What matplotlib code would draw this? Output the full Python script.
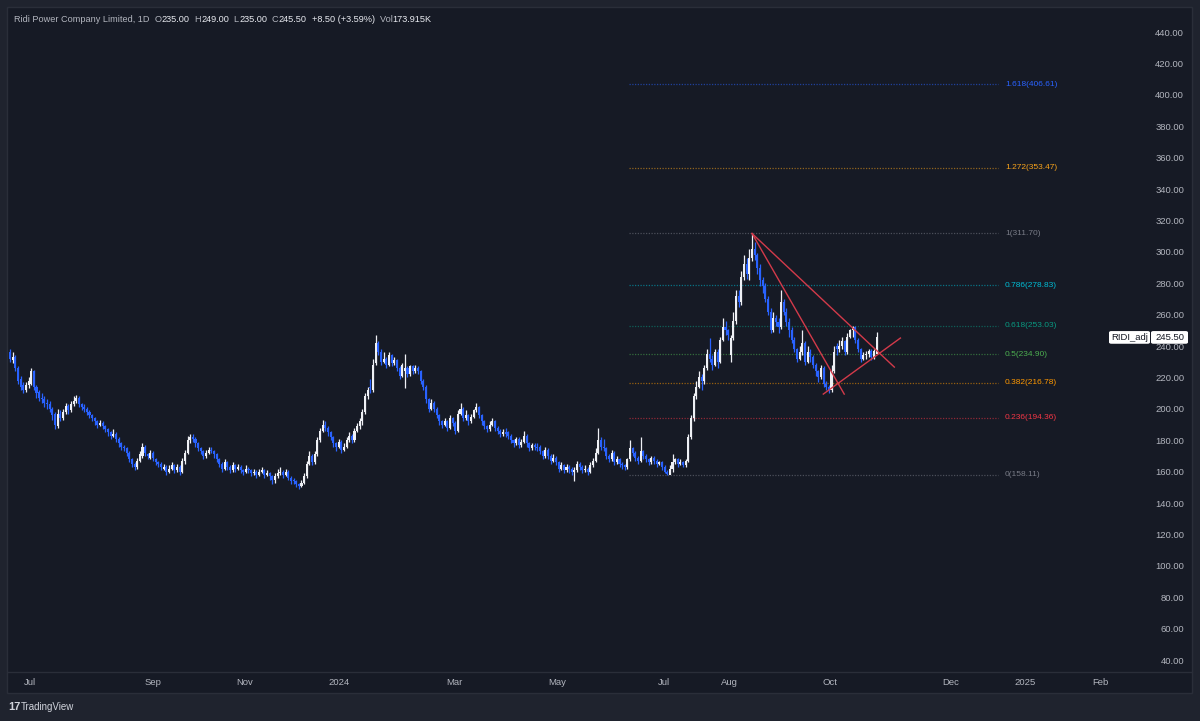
import matplotlib
matplotlib.use('Agg')
import matplotlib.pyplot as plt
from matplotlib.patches import Rectangle, FancyBboxPatch
from matplotlib.lines import Line2D
import numpy as np

plt.rcParams['font.family'] = ['Liberation Sans', 'DejaVu Sans']

# Daily candles, Ridi Power (RIDI), mid Jun 2023 -> 24 Oct 2024
opens = [
    236, 231, 233, 226, 219, 215, 212, 215, 216, 224,
    214, 211, 207, 206, 204, 203, 200, 197, 189, 197,
    194, 198, 202, 199, 203, 205, 207, 203, 201, 200,
    198, 196, 194, 192, 190, 191, 189, 187, 185, 183,
    184, 181, 178, 176, 175, 172, 168, 165, 163, 167,
    170, 176, 171, 169, 172, 168, 166, 165,
    162, 163, 160, 162, 164, 161, 163, 160, 167,
    172, 180, 182, 181, 178, 175, 173, 170, 172, 174,
    173, 171, 168, 165, 162, 166, 163, 161, 164, 162,
    163, 161, 160, 162, 161, 159, 160, 158, 160, 161,
    158, 159, 157, 155, 157, 159, 160, 158, 160, 156,
    155, 154, 152, 151, 153, 157, 165, 170, 166, 171,
    180, 186, 190, 188, 185, 182, 178, 176, 179, 174,
    176, 180, 183, 180, 186, 189, 192, 198, 208, 214,
    212, 229, 242, 236, 230, 232, 228, 234, 229, 231,
    226, 221, 224, 226, 222, 227, 224, 226, 224, 218,
    214, 206, 200, 204, 200, 196, 192, 190, 192, 188,
    194, 191, 186, 197, 200, 194, 196, 192, 195, 199,
    201, 196, 192, 189, 187, 190, 192, 188, 186, 184, 185,
    185, 183, 180, 178, 181, 177, 179, 183, 178, 175,
    177, 176, 176, 173, 170, 174, 170, 167, 169, 166, 162,
    164, 161, 163, 162, 160, 161, 165, 163, 161, 162,
    160, 164, 167, 172, 180, 176, 175, 170, 168, 172,
    166, 168, 165, 164, 163, 168, 175, 172, 169, 167,
    173, 170, 168, 166, 169, 167, 165, 166, 163, 160,
    158, 162, 166, 168, 165, 166, 164, 167, 182, 194,
    208, 214, 220, 218, 226, 235, 232, 228, 236, 230,
    244, 252, 250, 234, 245, 256, 272, 268, 284, 292,
    286, 296, 302, 298, 290, 282, 278, 270, 262, 250,
    258, 255, 252, 268, 262, 255, 250, 244, 238, 232,
    236, 242, 230, 236, 233, 228, 224, 220, 226, 216,
    214, 212, 224, 240, 238, 240, 243, 236, 246, 250,
    252, 244, 238, 232, 234, 235, 237, 233, 235,
]
highs = [
    238, 236, 234, 227, 221, 217, 217, 220, 226, 225,
    215, 212, 210, 208, 206, 205, 201, 198, 200, 199,
    200, 204, 203, 205, 208, 209, 208, 204, 203, 201,
    199, 197, 195, 193, 193, 192, 190, 188, 186, 187,
    185, 182, 179, 177, 176, 173, 169, 166, 169, 173,
    178, 177, 172, 174, 173, 169, 167, 166,
    165, 164, 164, 166, 165, 165, 164, 169, 174,
    183, 184, 184, 182, 179, 176, 174, 174, 176, 176,
    174, 172, 169, 166, 168, 167, 164, 166, 165, 165,
    164, 162, 164, 163, 162, 162, 161, 162, 163, 162,
    161, 160, 158, 159, 162, 163, 161, 162, 161, 157,
    156, 155, 153, 155, 159, 167, 173, 171, 173, 182,
    188, 193, 192, 189, 186, 183, 179, 181, 180, 178,
    182, 185, 184, 188, 191, 194, 200, 210, 214, 219,
    232, 247, 243, 238, 236, 233, 236, 235, 233, 232,
    227, 229, 235, 227, 228, 228, 228, 227, 225, 219,
    215, 207, 206, 205, 201, 197, 193, 194, 193, 196,
    195, 192, 199, 204, 201, 199, 197, 197, 200, 204,
    202, 197, 193, 190, 192, 194, 193, 189, 187, 187, 188,
    186, 184, 181, 182, 182, 181, 186, 184, 179, 178,
    178, 178, 177, 174, 176, 175, 171, 171, 170, 167, 166,
    165, 165, 164, 163, 163, 167, 166, 164, 164, 163,
    166, 169, 175, 188, 182, 181, 176, 171, 174, 173,
    170, 169, 166, 165, 169, 180, 176, 173, 170, 182,
    174, 171, 169, 170, 170, 168, 167, 167, 164, 161,
    164, 171, 169, 169, 168, 167, 168, 184, 196, 210,
    218, 224, 222, 228, 238, 245, 234, 238, 238, 246,
    258, 256, 251, 247, 262, 276, 276, 288, 298, 296,
    302, 311.7, 306, 299, 292, 284, 280, 272, 264, 262,
    260, 258, 276, 270, 264, 258, 252, 246, 239, 240,
    250, 243, 240, 238, 234, 229, 225, 228, 227, 218,
    215, 228, 240, 242, 244, 246, 244, 248, 251, 253,
    253, 245, 239, 236, 237, 238, 238, 238, 249,
]
lows = [
    230, 229, 224, 216, 212, 210, 211, 213, 215, 212,
    207, 205, 204, 201, 200, 198, 193, 187, 188, 192,
    193, 197, 197, 198, 202, 204, 201, 199, 198, 196,
    194, 192, 190, 188, 189, 187, 185, 183, 181, 182,
    179, 176, 174, 173, 170, 166, 163, 161, 162, 166,
    169, 170, 168, 168, 167, 164, 163, 161,
    161, 158, 159, 161, 159, 160, 158, 159, 165,
    171, 178, 179, 176, 173, 171, 168, 169, 171, 172,
    169, 166, 163, 160, 161, 161, 159, 160, 160, 161,
    159, 158, 159, 159, 157, 158, 156, 157, 159, 156,
    157, 155, 152, 153, 156, 158, 156, 157, 155, 152,
    152, 150, 149, 150, 152, 156, 164, 164, 165, 170,
    179, 185, 186, 183, 180, 176, 173, 175, 172, 173,
    175, 179, 178, 179, 185, 187, 190, 197, 206, 210,
    211, 228, 234, 228, 229, 226, 227, 227, 228, 224,
    219, 220, 213, 220, 221, 222, 223, 222, 216, 212,
    204, 198, 199, 198, 194, 190, 188, 189, 186, 187,
    189, 184, 185, 196, 192, 193, 190, 191, 194, 198,
    194, 190, 187, 185, 186, 189, 186, 184, 182, 183, 182,
    181, 178, 176, 177, 175, 176, 178, 176, 173, 174,
    174, 173, 171, 168, 169, 168, 165, 166, 164, 160, 161,
    159, 160, 159, 158, 154, 160, 161, 159, 160, 158,
    159, 163, 166, 171, 174, 173, 168, 166, 167, 164,
    165, 163, 162, 161, 162, 167, 170, 167, 165, 166,
    168, 166, 164, 165, 165, 163, 164, 161, 159, 158.1,
    158.5, 160, 165, 163, 164, 163, 163, 166, 181, 192,
    206, 213, 212, 216, 225, 230, 225, 227, 226, 229,
    243, 247, 244, 230, 244, 254, 265, 266, 282, 283,
    282, 294, 295, 286, 278, 274, 268, 260, 248, 249,
    253, 248, 251, 260, 253, 246, 242, 236, 230, 231,
    234, 228, 229, 230, 226, 221, 217, 219, 214, 212,
    210, 211, 223, 234, 236, 238, 234, 235, 245, 246,
    242, 236, 230, 231, 232, 233, 231, 232, 235,
]
closes = [
    232, 233, 226, 218, 214, 212, 215, 218, 224, 214,
    210, 207, 206, 204, 203, 200, 196, 190, 197, 194,
    198, 202, 199, 203, 205, 207, 203, 201, 200, 198,
    196, 194, 192, 190, 191, 189, 187, 185, 183, 184,
    181, 178, 176, 175, 172, 168, 165, 163, 167, 171,
    176, 172, 170, 172, 169, 166, 165, 163,
    163, 160, 162, 164, 161, 163, 160, 167, 172,
    180, 182, 181, 178, 175, 173, 170, 172, 174, 173,
    171, 168, 165, 162, 166, 163, 161, 164, 162, 163,
    161, 160, 162, 161, 159, 160, 158, 160, 161, 158,
    159, 157, 155, 157, 159, 160, 158, 160, 156, 154,
    154, 152, 151, 153, 157, 165, 170, 166, 171, 180,
    186, 190, 188, 185, 182, 178, 176, 179, 174, 176,
    180, 183, 180, 186, 189, 192, 198, 208, 212, 213,
    228, 242, 236, 230, 232, 228, 234, 229, 231, 226,
    221, 228, 226, 222, 227, 224, 226, 224, 218, 214,
    206, 200, 204, 200, 196, 192, 190, 192, 188, 194,
    191, 186, 197, 200, 194, 196, 192, 195, 199, 201,
    196, 192, 189, 187, 190, 192, 188, 186, 184, 185, 184,
    183, 180, 178, 181, 177, 179, 183, 178, 175, 177,
    176, 175, 173, 170, 174, 170, 167, 169, 166, 162, 164,
    161, 163, 162, 160, 161, 165, 163, 161, 162, 160,
    164, 167, 172, 180, 176, 175, 170, 168, 172, 166,
    168, 165, 164, 163, 168, 175, 172, 169, 167, 173,
    170, 168, 166, 169, 167, 165, 166, 163, 160, 158.5,
    162, 166, 168, 165, 166, 164, 167, 182, 194, 208,
    214, 220, 218, 226, 235, 232, 228, 236, 230, 244,
    252, 250, 247, 245, 256, 272, 268, 284, 292, 286,
    296, 302, 298, 290, 282, 278, 270, 262, 250, 258,
    255, 252, 268, 262, 255, 250, 244, 238, 232, 236,
    242, 230, 236, 233, 228, 224, 220, 226, 216, 214,
    212, 224, 236, 238, 240, 243, 236, 246, 250, 252,
    244, 238, 232, 234, 235, 237, 233, 237, 245.5,
]

# month labels on the time axis (bar index where the label sits)
month_labels = ['Jul', 'Sep', 'Nov', '2024', 'Mar', 'May', 'Jul', 'Aug', 'Oct', 'Dec', '2025', 'Feb']
month_bars = [7.5, 54, 88.7, 124.2, 167.5, 206.4, 246.8, 271.3, 309.4, 355.1, 383, 411.3]

# fibonacci retracement drawn from the Jul 2024 low to the Aug 2024 high
fib_ratios = ['1.618', '1.272', '1', '0.786', '0.618', '0.5', '0.382', '0.236', '0']
fib_prices = [406.61, 353.47, 311.70, 278.83, 253.03, 234.90, 216.78, 194.36, 158.11]
fib_colors = ['#2962ff', '#f7a21b', '#787b86', '#00bcd4', '#089981', '#4caf50', '#ff9800', '#f23645', '#787b86']
fib_start, fib_end = 233.6, 372.8

# hand drawn trend lines (bar index, price)
trend_lines = [
    ([280, 333.7], [311.7, 226.6]),
    ([280, 314.8], [311.7, 209.4]),
    ([306.9, 336.0], [209.4, 245.1]),
]

UP = '#eef0f5'
DOWN = '#2962ff'
TXT = '#b2b5be'
W, H = 1200, 721

fig = plt.figure(figsize=(12, 7.21), dpi=100)
fig.patch.set_facecolor('#1f232e')
fig.patches.append(Rectangle((7 / W, 1 - 693 / H), 1185 / W, 686 / H, transform=fig.transFigure,
                             facecolor='#161a25', edgecolor='#2a2e39', lw=1, zorder=-5))

ax = fig.add_axes([8 / W, 1 - 672 / H, 1097 / W, 664 / H])
ax.set_facecolor('none')
for s in ax.spines.values():
    s.set_visible(False)

o = np.array(opens, float)
h = np.array(highs, float)
l = np.array(lows, float)
c = np.array(closes, float)
x = np.arange(len(c))
colors = np.where(c >= o, UP, DOWN)

ax.vlines(x, l, h, colors=colors, lw=0.9, zorder=3)
ax.bar(x, np.maximum(np.abs(c - o), 0.8), bottom=np.minimum(o, c), width=0.78,
       color=colors, linewidth=0, zorder=4)

# fib levels
for r, p, col in zip(fib_ratios, fib_prices, fib_colors):
    ax.hlines(p, fib_start, fib_end, colors=col, lw=0.9, linestyles=(0, (1, 1.2)), alpha=0.55, zorder=2)
    ax.text(fib_end + 2.7, p, f'{r}({p:.2f})', color=col, fontsize=6, va='center', ha='left')

for tx, ty in trend_lines:
    ax.plot(tx, ty, color='#d33a4a', lw=1, zorder=5)

ax.set_xlim(-0.75, 413.2)
ax.set_ylim(32.4, 455.3)

ax.yaxis.tick_right()
ax.set_yticks(np.arange(40, 441, 20))
ax.set_yticklabels([f'{v:.2f}' for v in np.arange(40, 441, 20)])
ax.tick_params(axis='y', length=0, pad=57, labelsize=6.8, labelcolor=TXT)
for t in ax.get_yticklabels():
    t.set_horizontalalignment('right')

ax.set_xticks(month_bars)
ax.set_xticklabels(month_labels)
ax.tick_params(axis='x', length=0, pad=4, labelsize=6.8, labelcolor=TXT)

# separator between chart and time scale
fig.add_artist(Line2D([8 / W, 1192 / W], [1 - 672 / H] * 2, color='#2a2e39', lw=1))

# last price marker on the price scale
fig.canvas.draw()
ylast = ax.transData.transform((0, c[-1]))[1] / fig.bbox.height
bh = 12.7 / H
for x0, x1, label in [(1109, 1150, 'RIDI_adj'), (1151, 1188, f'{c[-1]:.2f}')]:
    fig.patches.append(FancyBboxPatch((x0 / W, ylast - bh / 2), (x1 - x0) / W, bh,
                                      boxstyle='round,pad=0,rounding_size=0.002',
                                      transform=fig.transFigure, facecolor='white',
                                      edgecolor='none', zorder=10))
    fig.text((x0 + x1) / 2 / W, ylast, label, color='#131722', fontsize=6.8,
             ha='center', va='center', zorder=11)

# title line with OHLC readout
renderer = fig.canvas.get_renderer()
parts = [('Ridi Power Company Limited, 1D', TXT), ('  O', TXT), ('235.00', '#e8eaf0'),
         ('  H', TXT), ('249.00', '#e8eaf0'), ('  L', TXT), ('235.00', '#e8eaf0'),
         ('  C', TXT), ('245.50', '#e8eaf0'), ('  +8.50 (+3.59%)', '#e8eaf0'),
         ('  Vol', TXT), ('173.915K', '#e8eaf0')]
xpos = 14 / W
for s, col in parts:
    t = fig.text(xpos, 1 - 20 / H, s, color=col, fontsize=6.6, va='center', ha='left')
    xpos += t.get_window_extent(renderer).width / fig.bbox.width

# footer logo
fig.text(8 / W, 1 - 707 / H, '17', color='#d1d4dc', fontsize=8, fontweight='bold', va='center')
fig.text(21 / W, 1 - 707 / H, 'TradingView', color='#d1d4dc', fontsize=7, va='center')

fig.savefig('out.png', dpi=100, facecolor=fig.get_facecolor())
